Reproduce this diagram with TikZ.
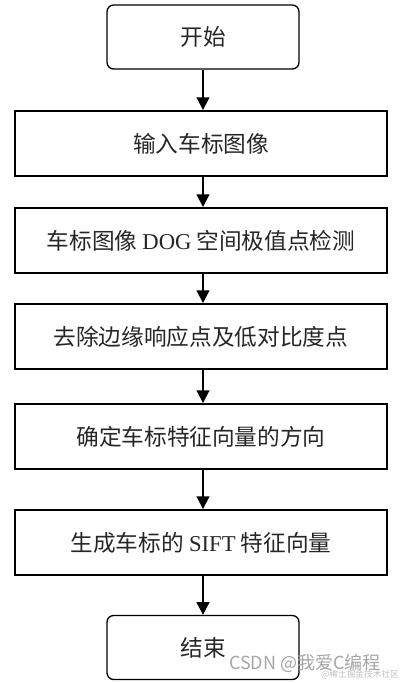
\documentclass[tikz,border=0pt]{standalone}
\usepackage{fontspec}
\setmainfont{Liberation Serif}
\newfontfamily\cjk{Noto Sans CJK SC}
\newfontfamily\cjksans{Noto Sans CJK SC}
\usetikzlibrary{arrows.meta}
\newcommand{\lat}[1]{{\rmfamily #1}}
\begin{document}
\begin{tikzpicture}[x=0.75pt,y=-0.75pt,
  txt/.style={font=\cjk\fontsize{17}{20}\selectfont, text=black!85},
  stepbox/.style={txt, draw, line width=1.7pt, minimum width=279.5pt, minimum height=48.5pt, inner sep=0pt},
  termbox/.style={txt, draw, line width=1pt, rounded corners=5pt, minimum width=144pt, minimum height=48pt, inner sep=0pt},
  flow/.style={line width=1.5pt, -{Triangle[length=9.5pt,width=9.5pt]}}]
\useasboundingbox (0,0) rectangle (400,683);
\node[termbox] (start) at (203,37) {开始};
\node[stepbox] (s1) at (201,143.5) {输入车标图像};
\node[stepbox] (s2) at (201,240.5) {车标图像\ \lat{DOG}\ 空间极值点检测};
\node[stepbox] (s3) at (201,336.5) {去除边缘响应点及低对比度点};
\node[stepbox] (s4) at (201,436.5) {确定车标特征向量的方向};
\node[stepbox] (s5) at (201,542.5) {生成车标的\ \lat{SIFT}\ 特征向量};
\node[termbox] (end) at (203,647.5) {结束};
\draw[flow] (start.south) -- (start.south |- s1.north);
\draw[flow] (start.south |- s1.south) -- (start.south |- s2.north);
\draw[flow] (start.south |- s2.south) -- (start.south |- s3.north);
\draw[flow] (start.south |- s3.south) -- (start.south |- s4.north);
\draw[flow] (start.south |- s4.south) -- (start.south |- s5.north);
\draw[flow] (start.south |- s5.south) -- (end.north);
\node[font=\cjksans\fontsize{13.5}{15}\selectfont, text=black!35, inner sep=0pt] (wm) at (305,663) {CSDN @我爱C编程};
\node[font=\cjksans\fontsize{6.5}{8}\selectfont, text=black!25, inner sep=0pt] (wm2) at (360,675) {@稀土掘金技术社区};
\end{tikzpicture}
\end{document}
